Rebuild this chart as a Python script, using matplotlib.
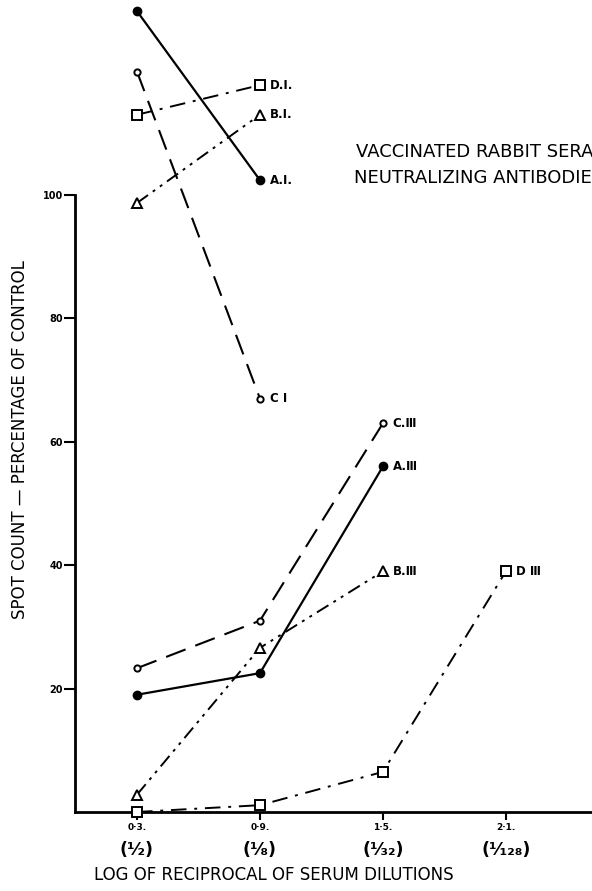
import matplotlib
matplotlib.use("Agg")
import matplotlib.pyplot as plt
import matplotlib.transforms as mtransforms

# log of reciprocal dilution on x, spot count (% of control) on y
x_I = [0.3, 0.9]
x_III = [0.3, 0.9, 1.5]
x_DIII = [0.3, 0.9, 1.5, 2.1]

a_I = [129.8, 102.4]
b_I = [98.7, 113.0]
c_I = [120.0, 67.0]
d_I = [113.0, 117.8]

a_III = [19.0, 22.5, 56.0]
b_III = [2.8, 26.6, 39.0]
c_III = [23.3, 31.0, 63.0]
d_III = [0.0, 1.1, 6.5, 39.0]

x_ticks = [0.3, 0.9, 1.5, 2.1]
x_tick_labels = ["0·3.", "0·9.", "1·5.", "2·1."]
dilutions = ["(¹⁄₂)", "(¹⁄₈)", "(¹⁄₃₂)", "(¹⁄₁₂₈)"]
y_ticks = [20, 40, 60, 80, 100]

fig = plt.figure(figsize=(5.92, 8.91), dpi=100)
ax = fig.add_axes([0.1275, 0.0887, 0.8725, 0.9113])

styles = {
    "A": dict(color="black", lw=1.6, ls="-", marker="o", ms=6, mfc="black"),
    "B": dict(color="black", lw=1.4, dashes=(7, 3, 1.5, 3, 1.5, 3), marker="^", ms=7, mfc="white", mew=1.4),
    "C": dict(color="black", lw=1.5, dashes=(10, 5), marker="o", ms=4.5, mfc="white", mew=1.4),
    "D": dict(color="black", lw=1.4, dashes=(8, 4, 1.5, 4), marker="s", ms=6.5, mfc="white", mew=1.4),
}

series = [
    (x_I, a_I, "A", "A.I."),
    (x_I, b_I, "B", "B.I."),
    (x_I, c_I, "C", "C I"),
    (x_I, d_I, "D", "D.I."),
    (x_III, a_III, "A", "A.Ⅲ"),
    (x_III, b_III, "B", "B.Ⅲ"),
    (x_III, c_III, "C", "C.Ⅲ"),
    (x_DIII, d_III, "D", "D Ⅲ"),
]

for xs, ys, key, name in series:
    ax.plot(xs, ys, clip_on=False, zorder=3, **styles[key])
    ax.annotate(name, (xs[-1], ys[-1]), xytext=(7, 0), textcoords="offset points",
                ha="left", va="center", fontsize=8.5, fontweight="bold")

ax.set_xlim(0, 2.52)
ax.set_ylim(0, 131.6)

for s in ["top", "right"]:
    ax.spines[s].set_visible(False)
ax.spines["left"].set_bounds(0, 100)
ax.spines["left"].set_linewidth(2)
ax.spines["bottom"].set_linewidth(2)

ax.set_yticks(y_ticks)
ax.set_yticklabels([str(v) for v in y_ticks], fontsize=7, fontweight="bold")
ax.tick_params(axis="y", direction="out", length=8, width=1.5, pad=1)
ax.set_xticks(x_ticks)
ax.set_xticklabels(x_tick_labels, fontsize=6.5, fontweight="bold")
ax.tick_params(axis="x", direction="out", length=6, width=1.5, pad=2)

# fraction line under each tick label, placed in pixels
frac_trans = mtransforms.blended_transform_factory(ax.transData, mtransforms.IdentityTransform())
for xv, lab in zip(x_ticks, dilutions):
    fig.text(xv, 891 - 850, lab, transform=frac_trans,
             ha="center", va="center", fontsize=12.5, fontweight="bold")

fig.text(274 / 592, 1 - 875 / 891, "LOG OF RECIPROCAL OF SERUM DILUTIONS",
         ha="center", va="center", fontsize=12)
fig.text(20 / 592, 1 - 440 / 891, "SPOT COUNT — PERCENTAGE OF CONTROL",
         ha="center", va="center", rotation=90, fontsize=12)

fig.text(356 / 592, 1 - 152 / 891, "VACCINATED RABBIT SERA", ha="left", va="center", fontsize=13)
fig.text(354 / 592, 1 - 178 / 891, "NEUTRALIZING ANTIBODIES", ha="left", va="center", fontsize=13)

fig.savefig("out.png", dpi=100)
